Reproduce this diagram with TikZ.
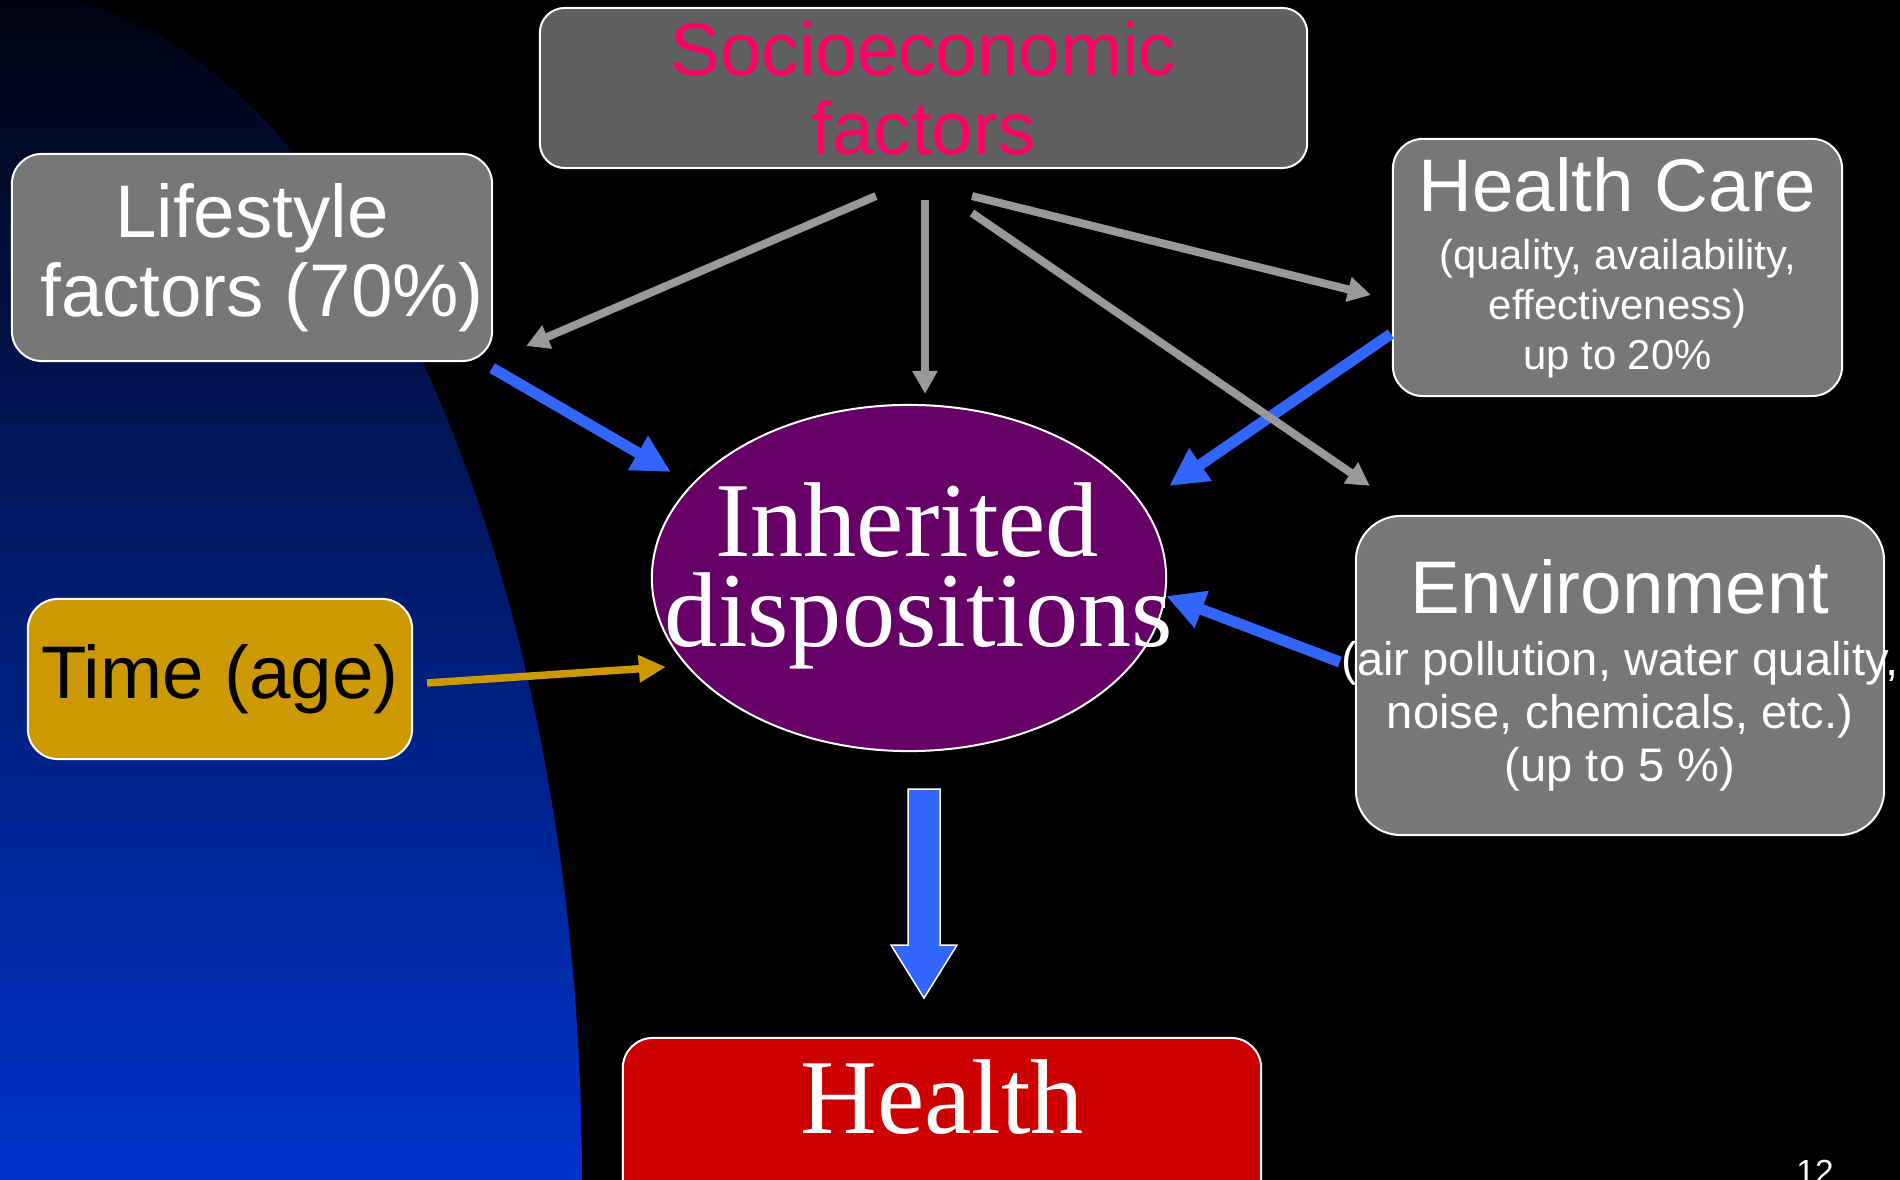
\documentclass[tikz,border=0pt]{standalone}
\usepackage{fontspec}
\setmainfont{Liberation Serif}
\setsansfont{Liberation Sans}
\usetikzlibrary{arrows.meta, shapes.geometric, calc}
\definecolor{boxgray}{HTML}{777777}
\definecolor{sociogray}{HTML}{606060}
\definecolor{socpink}{HTML}{FF0066}
\definecolor{timegold}{HTML}{CC9900}
\definecolor{inhpurple}{HTML}{660066}
\definecolor{healthred}{HTML}{CC0000}
\definecolor{arrblue}{HTML}{3366FF}
\definecolor{arrgray}{HTML}{999999}
\definecolor{bgtop}{HTML}{00030F}
\definecolor{bgmid}{HTML}{00249A}
\definecolor{bgbot}{HTML}{0033CC}
\newcommand{\boxfont}{\sffamily\fontsize{21.2pt}{22.4pt}\selectfont}
\newcommand{\carefont}{\sffamily\fontsize{11.9pt}{14.2pt}\selectfont}
\newcommand{\envfont}{\sffamily\fontsize{13.4pt}{15.1pt}\selectfont}
\newcommand{\serifbig}{\rmfamily\fontsize{30.25pt}{25.6pt}\selectfont}
\newcommand{\pagefont}{\sffamily\fontsize{9.5pt}{11pt}\selectfont}

\begin{document}
\begin{tikzpicture}[
  x=0.01cm, y=-0.01cm,
  box/.style={draw=white, line width=0.02cm, rounded corners=0.3cm, align=center, inner sep=0pt, text=white, font=\boxfont},
  greybox/.style={box, fill=boxgray},
  grayarr/.style={line width=0.08cm, draw=arrgray, -{Triangle[length=0.23cm,width=0.24cm]}},
  bluearr/.style={line width=0.11cm, draw=arrblue, -{Triangle[length=0.38cm,width=0.37cm]}},
  goldarr/.style={line width=0.075cm, draw=timegold, -{Triangle[length=0.27cm,width=0.26cm]}},
  blockarr/.style={draw=white, line width=0.015cm, fill=arrblue},
]
\useasboundingbox (0,0) rectangle (1900,1180);
\clip (0,0) rectangle (1900,1180);

% Background
\fill[black] (0,0) rectangle (1900,1180);
\shade[top color=bgtop, middle color=bgmid, bottom color=bgbot] (0,1180) -- plot[domain=0:90, samples=60, variable=\t] ({582*cos(\t)}, {1180-1190*sin(\t)}) -- (0,0) -- cycle;

% Factors
\node[box, fill=sociogray, text=socpink, minimum width=7.67cm, minimum height=1.6cm, rounded corners=0.25cm] (socio) at (923.5,88) {Socioeconomic\\factors};
\node[greybox, minimum width=4.8cm, minimum height=2.07cm] (life) at (252,257.5) {Lifestyle\\\hspace*{0.2cm}factors (70\%)};
\node[greybox, font=\carefont, minimum width=4.49cm, minimum height=2.57cm] (care) at (1617.5,267.5) {{\boxfont Health Care}\\[0.08cm](quality, availability,\\effectiveness)\\up to 20\%};
\node[greybox, font=\envfont, minimum width=5.28cm, minimum height=3.19cm, rounded corners=0.45cm] (env) at (1620,675.5) {{\boxfont Environment}\\[0.08cm]\makebox[0pt]{(air pollution, water quality,}\\noise, chemicals, etc.)\\(up to 5 \%)};
\node[box, fill=timegold, text=black, minimum width=3.84cm, minimum height=1.6cm] (time) at (220,679) {Time (age)};

% Dispositions and health
\node[ellipse, draw=white, line width=0.02cm, fill=inhpurple, minimum width=5.14cm, minimum height=3.46cm, inner sep=0pt] (inh) at (909,578) {};
\node[box, fill=healthred, font=\serifbig, text height=20.7pt, text depth=20.7pt, minimum width=6.38cm, minimum height=1.9cm] (health) at (942,1133) {Health};

% Arrows
\draw[bluearr] ($(life.south east)+(-1,6)$) -- ($(inh.west)+(20,-106)$);
\draw[bluearr] ($(care.west)+(-1,66.5)$) -- ($(inh.east)+(2,-92)$);
\draw[bluearr] ($(env.west)+(-15,-13.5)$) -- ($(inh.east)+(-1,18)$);
\draw[grayarr] ($(socio.south)+(-47.5,27)$) -- ($(life.south east)+(33,-16)$);
\draw[grayarr] ($(socio.south)+(1.5,31)$) -- ($(inh.north)+(16,-10)$);
\draw[grayarr] ($(socio.south)+(48.5,27)$) -- ($(care.west)+(-21,27.5)$);
\draw[grayarr] ($(socio.south)+(48.5,44)$) -- ($(env.north west)+(15,-29)$);
\draw[goldarr] ($(time.east)+(14,4)$) -- ($(inh.west)+(15,89)$);
\draw[blockarr] ($(inh.south)+(-1,37)$) -- ++(32,0) -- ++(0,156) -- ++(17,0) -- ++(-33,53) -- ++(-33,-53) -- ++(17,0) -- cycle;

\node[text=white, font=\serifbig, align=center, inner sep=0pt] (inhtext) at (907,576) {Inherited\\\hspace*{0.24cm}dispositions};
\node[text=white, font=\pagefont, anchor=base, inner sep=0pt] (pagenum) at (1815,1183) {12};

\end{tikzpicture}
\end{document}
